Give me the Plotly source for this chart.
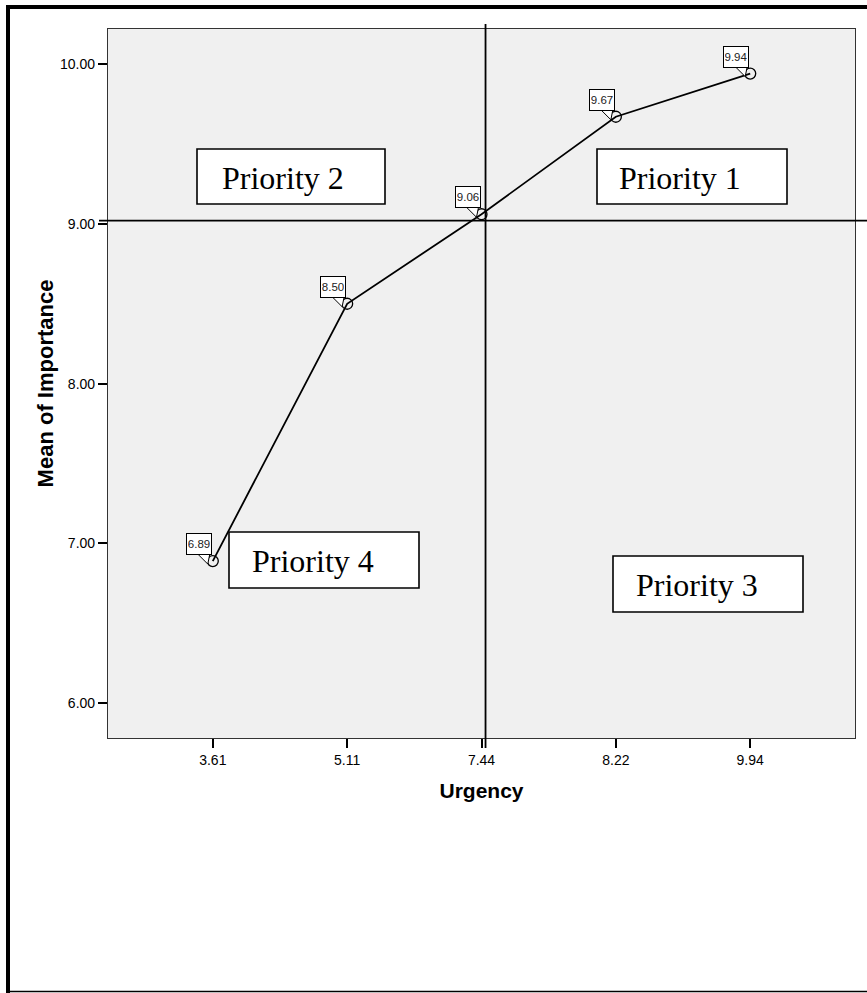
import plotly.graph_objects as go

# ---- data ----
urgency = ["3.61", "5.11", "7.44", "8.22", "9.94"]
importance = [6.89, 8.50, 9.06, 9.67, 9.94]
y_ticks = [6, 7, 8, 9, 10]
vline_x = 2.03      # urgency reference line (category index units)
hline_y = 9.02      # importance reference line
priorities = ["Priority 2", "Priority 1", "Priority 4", "Priority 3"]

W, H = 867, 993
L, R, T, B = 108, 855, 29, 738


def px_x(px):
    return (px - L) / (R - L)


def px_y(py):
    return (B - py) / (B - T)


fig = go.Figure()
fig.add_trace(go.Scatter(
    x=urgency, y=importance, mode="lines+markers",
    line=dict(color="black", width=1.8),
    marker=dict(symbol="circle-open", size=11, color="black", line=dict(width=1.3)),
    showlegend=False, hoverinfo="x+y",
))

shapes = []
annotations = []

# value labels with callouts
for i, v in enumerate(importance):
    shapes.append(dict(
        type="path", xref="x", yref="y", xsizemode="pixel", ysizemode="pixel",
        xanchor=i, yanchor=v, path="M -15,7 L -5,-3 L -3,7",
        line=dict(color="black", width=1), fillcolor="white", layer="above",
    ))
    annotations.append(dict(
        x=i, y=v, xref="x", yref="y", text=f"{v:.2f}",
        showarrow=False, xanchor="right", yanchor="bottom", xshift=-1, yshift=6,
        width=22, height=18, align="center", valign="middle",
        font=dict(family="Liberation Sans, Arial", size=11.5, color="#222"),
        bgcolor="white", bordercolor="black", borderwidth=1, borderpad=1,
    ))

# reference lines
shapes.append(dict(type="line", xref="paper", yref="y", x0=px_x(99), x1=px_x(867),
                   y0=hline_y, y1=hline_y, line=dict(color="black", width=1.6)))
shapes.append(dict(type="line", xref="x", yref="paper", x0=vline_x, x1=vline_x,
                   y0=px_y(748), y1=px_y(24), line=dict(color="black", width=1.8)))

# priority boxes (pixel positions)
boxes = [(197, 149, 385, 204, 220), (597, 149, 787, 204, 617),
         (229, 532, 419, 588, 250), (613, 556, 803, 612, 634)]
for name, (x0, y0, x1, y1, tx) in zip(priorities, boxes):
    shapes.append(dict(type="rect", xref="paper", yref="paper",
                       x0=px_x(x0), x1=px_x(x1), y0=px_y(y1), y1=px_y(y0),
                       line=dict(color="black", width=1.6), fillcolor="white", layer="above"))
    annotations.append(dict(x=px_x(tx), y=px_y((y0 + y1) / 2 + 1), xref="paper", yref="paper",
                            text=name, showarrow=False, xanchor="left", yanchor="middle",
                            font=dict(family="Liberation Serif, Times New Roman", size=32, color="black")))

# outer frame
shapes.append(dict(type="line", xref="paper", yref="paper", x0=px_x(8), x1=px_x(8),
                   y0=px_y(5), y1=px_y(993), line=dict(color="black", width=4)))
shapes.append(dict(type="line", xref="paper", yref="paper", x0=px_x(6), x1=px_x(867),
                   y0=px_y(7), y1=px_y(7), line=dict(color="black", width=4)))
shapes.append(dict(type="line", xref="paper", yref="paper", x0=px_x(6), x1=px_x(867),
                   y0=px_y(991.5), y1=px_y(991.5), line=dict(color="black", width=1.5)))

fig.update_layout(
    width=W, height=H,
    margin=dict(l=L, r=W - R, t=T, b=H - B),
    paper_bgcolor="white", plot_bgcolor="#f0f0f0",
    shapes=shapes, annotations=annotations,
    font=dict(family="Liberation Sans, Arial", color="black"),
    xaxis=dict(type="category", range=[-0.78, 4.78], showgrid=False, zeroline=False,
               showline=True, linecolor="#333", linewidth=1.2, mirror=True,
               ticks="outside", ticklen=9, tickwidth=1.5, tickcolor="black",
               tickfont=dict(size=14),
               title=dict(text="<b>Urgency</b>", font=dict(size=21), standoff=16)),
    yaxis=dict(range=[5.783, 10.219], tickvals=y_ticks, tickformat=".2f",
               showgrid=False, zeroline=False,
               showline=True, linecolor="#333", linewidth=1.2, mirror=True,
               ticks="outside", ticklen=9, tickwidth=1.5, tickcolor="black",
               tickfont=dict(size=14),
               title=dict(text="<b>Mean of Importance</b>", font=dict(size=22), standoff=0)),
)

fig.write_html("out.html", config={"displayModeBar": False},
               post_script="document.body.style.margin='0';document.body.style.overflow='hidden';")
